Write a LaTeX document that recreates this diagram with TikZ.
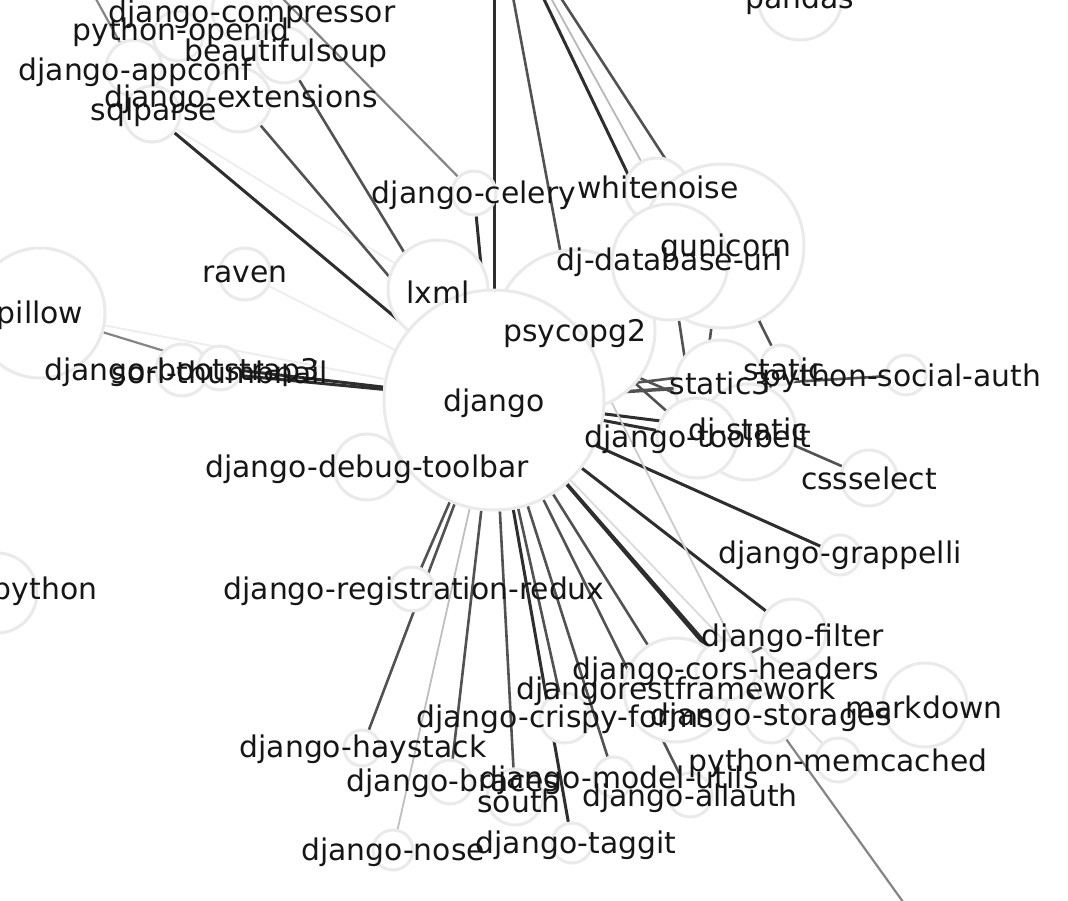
\documentclass[tikz,border=0pt]{standalone}
\usepackage{fontspec}
\setmainfont{DejaVu Sans}
\usetikzlibrary{backgrounds}
\definecolor{ringgray}{RGB}{234,234,234}
\definecolor{inkblack}{RGB}{22,22,22}

\begin{document}
\begin{tikzpicture}[x=1pt, y=-1pt,
    pkg/.style={circle, draw=ringgray, line width=3pt, fill=white, inner sep=0pt},
    lbl/.style={font=\fontsize{29.8}{34}\selectfont, text=inkblack, inner sep=0pt, yshift=-2pt},
    heavy/.style={line width=3pt, draw=black!82},
    medium/.style={line width=2.6pt, draw=black!68},
    soft/.style={line width=2.2pt, draw=black!48},
    faint/.style={line width=1.8pt, draw=black!18}
]
\useasboundingbox (0,0) rectangle (1068,900);

%% Packages off the canvas
\coordinate (up)        at (494,-105);
\coordinate (upleft)    at (69,-50);
\coordinate (celtop)    at (225,-60);
\coordinate (downright) at (995,1030);

%% Package circles
\node[pkg, minimum size=84pt]  (pandas)      at (800,-2)  {};
\node[pkg, minimum size=130pt] (pillow)      at (40,313)  {};
\node[pkg, minimum size=80pt]  (python)      at (-3,593)  {};
\node[pkg, minimum size=60pt]  (compressor)  at (242,10)  {};
\node[pkg, minimum size=50pt]  (openid)      at (178,36)  {};
\node[pkg, minimum size=56pt]  (soup)        at (284,55)  {};
\node[pkg, minimum size=56pt]  (appconf)     at (134,68)  {};
\node[pkg, minimum size=64pt]  (extensions)  at (239,100) {};
\node[pkg, minimum size=56pt]  (sqlparse)    at (152,114) {};
\node[pkg, minimum size=52pt]  (raven)       at (245,274) {};
\node[pkg, minimum size=52pt]  (bootstrap)   at (182,370) {};
\node[pkg, minimum size=44pt]  (sorl)        at (220,368) {};
\node[pkg, minimum size=44pt]  (celery)      at (474,193) {};
\node[pkg, minimum size=64pt]  (whitenoise)  at (657,190) {};
\node[pkg, minimum size=164pt] (gunicorn)    at (722,246) {};
\node[pkg, minimum size=160pt] (psycopg2)    at (575,330) {};
\node[pkg, minimum size=116pt] (dburl)       at (670,262) {};
\node[pkg, minimum size=100pt] (lxml)        at (438,290) {};
\node[pkg, minimum size=90pt]  (static3)     at (720,385) {};
\node[pkg, minimum size=40pt]  (static)      at (781,365) {};
\node[pkg, minimum size=40pt]  (socialauth)  at (906,375) {};
\node[pkg, minimum size=96pt]  (djstatic)    at (748,432) {};
\node[pkg, minimum size=80pt]  (toolbelt)    at (697,438) {};
\node[pkg, minimum size=56pt]  (cssselect)   at (869,478) {};
\node[pkg, minimum size=40pt]  (grappelli)   at (840,555) {};
\node[pkg, minimum size=66pt]  (filter)      at (793,632) {};
\node[pkg, minimum size=104pt] (drf)         at (676,690) {};
\node[pkg, minimum size=60pt]  (cors)        at (726,670) {};
\node[pkg, minimum size=50pt]  (storages)    at (771,718) {};
\node[pkg, minimum size=84pt]  (markdown)    at (925,705) {};
\node[pkg, minimum size=44pt]  (memcached)   at (838,760) {};
\node[pkg, minimum size=50pt]  (crispy)      at (565,718) {};
\node[pkg, minimum size=40pt]  (modelutils)  at (614,777) {};
\node[pkg, minimum size=44pt]  (allauth)     at (690,795) {};
\node[pkg, minimum size=40pt]  (taggit)      at (572,843) {};
\node[pkg, minimum size=56pt]  (south)       at (515,797) {};
\node[pkg, minimum size=44pt]  (braces)      at (450,782) {};
\node[pkg, minimum size=36pt]  (haystack)    at (362,748) {};
\node[pkg, minimum size=40pt]  (nose)        at (393,850) {};
\node[pkg, minimum size=44pt]  (regredux)    at (412,589) {};
\node[pkg, minimum size=66pt]  (debugbar)    at (367,467) {};
\node[pkg, minimum size=220pt] (django)      at (494,400) {};

%% Dependency edges, under the circles
\begin{scope}[on background layer]
\fill[white] (0,0) rectangle (1068,900);
% from the top
\draw[heavy]  (up) -- (django);
\draw[medium] (up) -- (psycopg2);
\draw[heavy]  (up) -- (dburl);
\draw[faint, draw=black!28] (up) -- (whitenoise);
\draw[medium] (up) -- (gunicorn);
\draw[soft]   (celtop) -- (celery);
\draw[soft]   (upleft) -- (appconf);
% upper left
\draw[heavy]  (celery) -- (django);
\draw[heavy]  (sqlparse) -- (django);
\draw[faint, draw=black!7] (sqlparse) -- (lxml);
\draw[medium] (extensions) -- (django);
\draw[medium] (soup) -- (django);
\draw[faint, draw=black!7] (raven) -- (django);
\draw[faint, draw=black!7] (pillow) -- (django);
\draw[soft]   (pillow) -- (sorl);
\draw[heavy]  (bootstrap) -- (django);
\draw[heavy]  (sorl) -- (django);
\draw[medium] (debugbar) -- (django);
% fan below django
\draw[medium] (django) -- (regredux);
\draw[medium] (django) -- (haystack);
\draw[faint, draw=black!25] (django) -- (nose);
\draw[medium] (django) -- (braces);
\draw[medium] (django) -- (south);
\draw[heavy]  (django) -- (taggit);
\draw[medium] (django) -- (crispy);
\draw[medium] (django) -- (modelutils);
\draw[medium] (django) -- (allauth);
\draw[medium] (django) -- (drf);
\draw[heavy]  (django) -- (cors);
\draw[heavy]  (django) -- (storages);
\draw[heavy]  (django) -- (filter);
\draw[heavy]  (django) -- (grappelli);
\draw[faint, draw=black!14] (django) -- (memcached);
% right side
\draw[heavy]  (django) -- (toolbelt);
\draw[heavy]  (django) -- (djstatic);
\draw[medium] (django) -- (static3);
\draw[medium] (django) -- (static);
\draw[medium] (django) -- (socialauth);
\draw[medium] (cssselect) -- (lxml);
\draw[faint, draw=black!20] (psycopg2) -- (storages);
\draw[medium] (drf) -- (filter);
\draw[soft]   (storages) -- (downright);
\draw[medium] (dburl) -- (toolbelt);
\draw[medium] (gunicorn) -- (static);
\draw[medium] (gunicorn) -- (toolbelt);
\draw[medium] (psycopg2) -- (toolbelt);
\draw[medium] (djstatic) -- (static);
\end{scope}

%% Labels, over every circle
\node[lbl] (pandas-t)     at (pandas)     {pandas};
\node[lbl] (pillow-t)     at (pillow)     {pillow};
\node[lbl] (python-t)     at (45,589)     {python};
\node[lbl] (compressor-t) at (252,12)     {django-compressor};
\node[lbl] (openid-t)     at (181,30)     {python-openid};
\node[lbl] (soup-t)       at (286,51)     {beautifulsoup};
\node[lbl] (appconf-t)    at (135,70)     {django-appconf};
\node[lbl] (extensions-t) at (241,97)     {django-extensions};
\node[lbl] (sqlparse-t)   at (154,110)    {sqlparse};
\node[lbl] (raven-t)      at (245,272)    {raven};
\node[lbl] (bootstrap-t)  at (182,370)    {django-bootstrap3};
\node[lbl] (sorl-t)       at (220,370)    {sorl-thumbnail};
\node[lbl] (celery-t)     at (474,193)    {django-celery};
\node[lbl] (whitenoise-t) at (658,185)    {whitenoise};
\node[lbl] (gunicorn-t)   at (726,246)    {gunicorn};
\node[lbl] (psycopg2-t)   at (575,332)    {psycopg2};
\node[lbl] (dburl-t)      at (670,260)    {dj-database-url};
\node[lbl] (lxml-t)       at (438,290)    {lxml};
\node[lbl] (static3-t)    at (720,381)    {static3};
\node[lbl] (static-t)     at (784,367)    {static};
\node[lbl] (socialauth-t) at (902,376)    {python-social-auth};
\node[lbl] (djstatic-t)   at (748,430)    {dj-static};
\node[lbl] (toolbelt-t)   at (698,437)    {django-toolbelt};
\node[lbl] (cssselect-t)  at (869,476)    {cssselect};
\node[lbl] (grappelli-t)  at (840,553)    {django-grappelli};
\node[lbl] (filter-t)     at (793,636)    {django-filter};
\node[lbl] (drf-t)        at (676,689)    {djangorestframework};
\node[lbl] (cors-t)       at (726,669)    {django-cors-headers};
\node[lbl] (storages-t)   at (771,715)    {django-storages};
\node[lbl] (markdown-t)   at (924,705)    {markdown};
\node[lbl] (memcached-t)  at (838,761)    {python-memcached};
\node[lbl] (crispy-t)     at (565,717)    {django-crispy-forms};
\node[lbl] (modelutils-t) at (619,778)    {django-model-utils};
\node[lbl] (allauth-t)    at (690,796)    {django-allauth};
\node[lbl] (taggit-t)     at (576,843)    {django-taggit};
\node[lbl] (south-t)      at (519,799)    {south};
\node[lbl] (braces-t)     at (453,781)    {django-braces};
\node[lbl] (haystack-t)   at (363,747)    {django-haystack};
\node[lbl] (nose-t)       at (393,850)    {django-nose};
\node[lbl] (regredux-t)   at (414,589)    {django-registration-redux};
\node[lbl] (debugbar-t)   at (367,467)    {django-debug-toolbar};
\node[lbl] (django-t)     at (494,401)    {django};

\end{tikzpicture}
\end{document}
